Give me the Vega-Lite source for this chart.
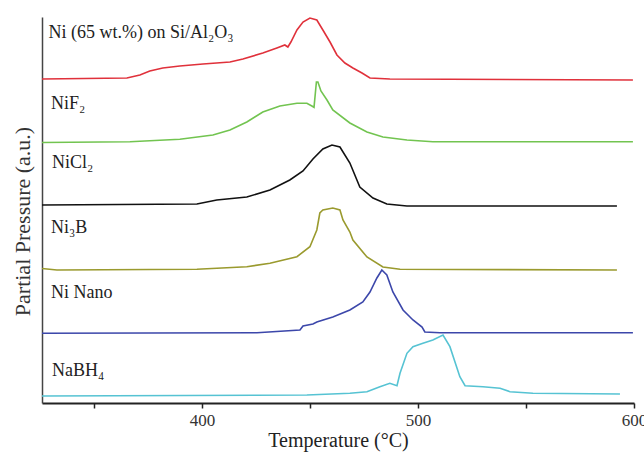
{
  "$schema": "https://vega.github.io/schema/vega-lite/v6.json",
  "width": 592,
  "height": 386,
  "autosize": {"type": "none"},
  "padding": {"left": 42, "top": 17, "right": 10, "bottom": 54},
  "background": "white",
  "config": {
    "view": {"stroke": null},
    "font": "Liberation Serif"
  },
  "datasets": {
    "curves": [
      {"s": "Ni65", "t": 326, "p": 324}, {"s": "Ni65", "t": 365.3, "p": 325}, {"s": "Ni65", "t": 371.3, "p": 328}, {"s": "Ni65", "t": 375.9, "p": 332}, {"s": "Ni65", "t": 381.9, "p": 335}, {"s": "Ni65", "t": 389.8, "p": 337}, {"s": "Ni65", "t": 400.5, "p": 339}, {"s": "Ni65", "t": 413.0, "p": 341}, {"s": "Ni65", "t": 419.0, "p": 344}, {"s": "Ni65", "t": 428.2, "p": 350}, {"s": "Ni65", "t": 434.7, "p": 355}, {"s": "Ni65", "t": 438.4, "p": 358}, {"s": "Ni65", "t": 439.8, "p": 356}, {"s": "Ni65", "t": 441.2, "p": 361}, {"s": "Ni65", "t": 444.0, "p": 373}, {"s": "Ni65", "t": 446.8, "p": 381}, {"s": "Ni65", "t": 450.0, "p": 385}, {"s": "Ni65", "t": 453.2, "p": 383}, {"s": "Ni65", "t": 456.0, "p": 373}, {"s": "Ni65", "t": 459.3, "p": 361}, {"s": "Ni65", "t": 462.5, "p": 348}, {"s": "Ni65", "t": 466.2, "p": 340}, {"s": "Ni65", "t": 469.9, "p": 335}, {"s": "Ni65", "t": 474.1, "p": 330}, {"s": "Ni65", "t": 477.8, "p": 325}, {"s": "Ni65", "t": 487.0, "p": 324}, {"s": "Ni65", "t": 599.5, "p": 323},
      {"s": "NiF2", "t": 326, "p": 260.5}, {"s": "NiF2", "t": 366.7, "p": 261.3}, {"s": "NiF2", "t": 389.8, "p": 263.7}, {"s": "NiF2", "t": 405.1, "p": 268}, {"s": "NiF2", "t": 413.0, "p": 273}, {"s": "NiF2", "t": 420.8, "p": 281}, {"s": "NiF2", "t": 428.2, "p": 291}, {"s": "NiF2", "t": 436.1, "p": 297}, {"s": "NiF2", "t": 444.0, "p": 299.7}, {"s": "NiF2", "t": 448.6, "p": 299.7}, {"s": "NiF2", "t": 450.9, "p": 297}, {"s": "NiF2", "t": 451.9, "p": 295.7}, {"s": "NiF2", "t": 453.0, "p": 321}, {"s": "NiF2", "t": 453.7, "p": 321}, {"s": "NiF2", "t": 455.1, "p": 312}, {"s": "NiF2", "t": 457.9, "p": 303}, {"s": "NiF2", "t": 460.6, "p": 293}, {"s": "NiF2", "t": 468.5, "p": 280}, {"s": "NiF2", "t": 476.4, "p": 271}, {"s": "NiF2", "t": 483.8, "p": 266}, {"s": "NiF2", "t": 494.9, "p": 263}, {"s": "NiF2", "t": 506.9, "p": 261.3}, {"s": "NiF2", "t": 599.5, "p": 261.3},
      {"s": "NiCl2", "t": 326, "p": 198}, {"s": "NiCl2", "t": 397.7, "p": 199}, {"s": "NiCl2", "t": 406.9, "p": 203}, {"s": "NiCl2", "t": 420.8, "p": 206}, {"s": "NiCl2", "t": 431.5, "p": 213}, {"s": "NiCl2", "t": 440.7, "p": 223}, {"s": "NiCl2", "t": 446.8, "p": 232}, {"s": "NiCl2", "t": 451.4, "p": 244}, {"s": "NiCl2", "t": 456.0, "p": 254}, {"s": "NiCl2", "t": 460.2, "p": 258}, {"s": "NiCl2", "t": 463.9, "p": 256}, {"s": "NiCl2", "t": 468.5, "p": 240}, {"s": "NiCl2", "t": 473.1, "p": 216}, {"s": "NiCl2", "t": 479.2, "p": 205}, {"s": "NiCl2", "t": 485.6, "p": 199}, {"s": "NiCl2", "t": 494.9, "p": 197}, {"s": "NiCl2", "t": 592.1, "p": 197},
      {"s": "Ni3B", "t": 326, "p": 134.5}, {"s": "Ni3B", "t": 332.9, "p": 133}, {"s": "Ni3B", "t": 397.7, "p": 133.7}, {"s": "Ni3B", "t": 420.8, "p": 136.3}, {"s": "Ni3B", "t": 431.5, "p": 139.7}, {"s": "Ni3B", "t": 444.0, "p": 146.3}, {"s": "Ni3B", "t": 450.0, "p": 156.3}, {"s": "Ni3B", "t": 453.2, "p": 173}, {"s": "Ni3B", "t": 454.6, "p": 190}, {"s": "Ni3B", "t": 456.0, "p": 193}, {"s": "Ni3B", "t": 460.6, "p": 195}, {"s": "Ni3B", "t": 463.9, "p": 193}, {"s": "Ni3B", "t": 465.3, "p": 183}, {"s": "Ni3B", "t": 468.5, "p": 171}, {"s": "Ni3B", "t": 469.9, "p": 163}, {"s": "Ni3B", "t": 476.4, "p": 146}, {"s": "Ni3B", "t": 483.8, "p": 136}, {"s": "Ni3B", "t": 491.7, "p": 133.7}, {"s": "Ni3B", "t": 592.1, "p": 133},
      {"s": "NiNano", "t": 326, "p": 69.7}, {"s": "NiNano", "t": 425.5, "p": 70.3}, {"s": "NiNano", "t": 445.4, "p": 73}, {"s": "NiNano", "t": 446.8, "p": 77}, {"s": "NiNano", "t": 451.4, "p": 79}, {"s": "NiNano", "t": 453.2, "p": 81}, {"s": "NiNano", "t": 460.6, "p": 86}, {"s": "NiNano", "t": 468.5, "p": 93}, {"s": "NiNano", "t": 474.5, "p": 101}, {"s": "NiNano", "t": 477.8, "p": 111}, {"s": "NiNano", "t": 481.0, "p": 125}, {"s": "NiNano", "t": 483.3, "p": 133}, {"s": "NiNano", "t": 485.6, "p": 128}, {"s": "NiNano", "t": 488.4, "p": 111}, {"s": "NiNano", "t": 493.1, "p": 93}, {"s": "NiNano", "t": 497.7, "p": 83}, {"s": "NiNano", "t": 501.9, "p": 76}, {"s": "NiNano", "t": 503.2, "p": 71}, {"s": "NiNano", "t": 510.2, "p": 70.3}, {"s": "NiNano", "t": 599.5, "p": 70.3},
      {"s": "NaBH4", "t": 326, "p": 7}, {"s": "NaBH4", "t": 448.6, "p": 8}, {"s": "NaBH4", "t": 468.5, "p": 9.7}, {"s": "NaBH4", "t": 476.4, "p": 11.3}, {"s": "NaBH4", "t": 482.4, "p": 16.3}, {"s": "NaBH4", "t": 487.0, "p": 19.7}, {"s": "NaBH4", "t": 490.3, "p": 17.3}, {"s": "NaBH4", "t": 491.7, "p": 29.7}, {"s": "NaBH4", "t": 494.9, "p": 49.7}, {"s": "NaBH4", "t": 497.7, "p": 56.3}, {"s": "NaBH4", "t": 502.3, "p": 59.7}, {"s": "NaBH4", "t": 506.9, "p": 63}, {"s": "NaBH4", "t": 511.6, "p": 68}, {"s": "NaBH4", "t": 514.8, "p": 56.3}, {"s": "NaBH4", "t": 519.4, "p": 26.3}, {"s": "NaBH4", "t": 521.8, "p": 17.3}, {"s": "NaBH4", "t": 530.1, "p": 16.3}, {"s": "NaBH4", "t": 538.0, "p": 14.7}, {"s": "NaBH4", "t": 542.6, "p": 11.3}, {"s": "NaBH4", "t": 553.2, "p": 9.7}, {"s": "NaBH4", "t": 593.5, "p": 9}
    ],
    "labels": [
      {"name": "Ni (65 wt.%) on Si/Al₂O₃", "t": 329.0, "p": 370},
      {"name": "NiF₂", "t": 330.2, "p": 299},
      {"name": "NiCl₂", "t": 330.6, "p": 240},
      {"name": "Ni₃B", "t": 330.2, "p": 175},
      {"name": "Ni Nano", "t": 330.2, "p": 110},
      {"name": "NaBH₄", "t": 330.6, "p": 32}
    ]
  },
  "layer": [
    {
      "data": {"name": "curves"},
      "mark": {"type": "line", "strokeWidth": 1.6, "clip": true},
      "encoding": {
        "x": {
          "field": "t", "type": "quantitative",
          "scale": {"domain": [326, 600], "nice": false, "zero": false},
          "axis": {
            "title": "Temperature (°C)",
            "values": [350, 400, 450, 500, 550, 600],
            "labelExpr": "datum.value % 100 == 0 ? datum.label : ''",
            "grid": false,
            "domainColor": "#222",
            "domainWidth": 2,
            "tickColor": "#222",
            "tickWidth": 1.5,
            "tickSize": 5,
            "labelFont": "Liberation Serif",
            "labelFontSize": 17,
            "labelColor": "#333",
            "labelPadding": 4,
            "labelFlush": false,
            "labelOverlap": false,
            "titleFont": "Liberation Serif",
            "titleFontSize": 20,
            "titleFontWeight": "normal",
            "titleColor": "#222",
            "titlePadding": 2
          }
        },
        "y": {
          "field": "p", "type": "quantitative",
          "scale": {"domain": [0, 386], "nice": false, "zero": false},
          "axis": {
            "title": "Partial Pressure (a.u.)",
            "ticks": false,
            "labels": false,
            "grid": false,
            "domainColor": "#444",
            "domainWidth": 1.5,
            "titleFont": "Liberation Serif",
            "titleFontSize": 22,
            "titleFontWeight": "normal",
            "titleColor": "#333",
            "titlePadding": 8,
            "titleY": 204
          }
        },
        "color": {
          "field": "s", "type": "nominal", "legend": null,
          "scale": {
            "domain": ["Ni65", "NiF2", "NiCl2", "Ni3B", "NiNano", "NaBH4"],
            "range": ["#e0313b", "#72c450", "#111111", "#9a9a2e", "#3c47aa", "#56c3d3"]
          }
        }
      }
    },
    {
      "data": {"name": "labels"},
      "mark": {"type": "text", "align": "left", "baseline": "middle", "font": "Liberation Serif", "fontSize": 18, "color": "#222"},
      "encoding": {
        "x": {"field": "t", "type": "quantitative"},
        "y": {"field": "p", "type": "quantitative"},
        "text": {"field": "name"}
      }
    }
  ]
}
